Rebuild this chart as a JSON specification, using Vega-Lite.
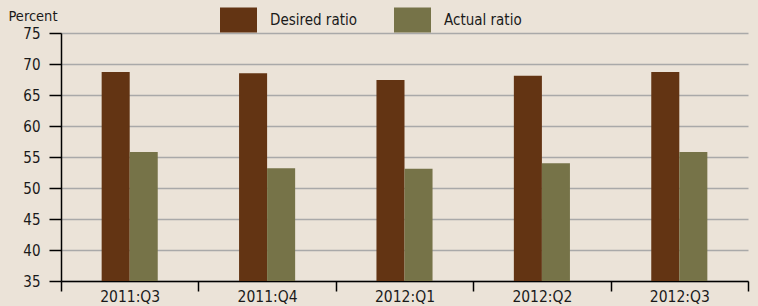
{
  "$schema": "https://vega.github.io/schema/vega-lite/v6.json",
  "autosize": {"type": "none"},
  "width": 687,
  "height": 248,
  "padding": {"left": 61, "top": 33, "right": 10, "bottom": 25},
  "background": "#ebe3d8",
  "config": {
    "view": {"stroke": null},
    "font": "DejaVu Sans Condensed",
    "axis": {"labelFont": "DejaVu Sans Condensed", "titleFont": "DejaVu Sans Condensed", "labelColor": "#1a1a1a", "titleColor": "#1a1a1a"},
    "legend": {"labelFont": "DejaVu Sans Condensed", "labelColor": "#1a1a1a"}
  },
  "data": {
    "values": [
      {"quarter": "2011:Q3", "series": "Desired ratio", "value": 68.7},
      {"quarter": "2011:Q3", "series": "Actual ratio", "value": 55.8},
      {"quarter": "2011:Q4", "series": "Desired ratio", "value": 68.5},
      {"quarter": "2011:Q4", "series": "Actual ratio", "value": 53.2},
      {"quarter": "2012:Q1", "series": "Desired ratio", "value": 67.4},
      {"quarter": "2012:Q1", "series": "Actual ratio", "value": 53.1},
      {"quarter": "2012:Q2", "series": "Desired ratio", "value": 68.1},
      {"quarter": "2012:Q2", "series": "Actual ratio", "value": 54.0},
      {"quarter": "2012:Q3", "series": "Desired ratio", "value": 68.7},
      {"quarter": "2012:Q3", "series": "Actual ratio", "value": 55.8}
    ]
  },
  "mark": {"type": "bar", "clip": true},
  "encoding": {
    "x": {
      "field": "quarter",
      "type": "nominal",
      "sort": null,
      "scale": {"paddingInner": 0, "paddingOuter": 0},
      "axis": {
        "title": null,
        "labelAngle": 0,
        "labelFontSize": 15.5,
        "labelPadding": -2,
        "tickBand": "extent",
        "tickSize": 10,
        "tickColor": "#000000",
        "tickWidth": 1.5,
        "domainColor": "#000000",
        "domainWidth": 1.5,
        "grid": false
      }
    },
    "xOffset": {
      "field": "series",
      "type": "nominal",
      "scale": {"domain": ["_left", "Desired ratio", "Actual ratio", "_right"], "paddingInner": 0, "paddingOuter": 0.45}
    },
    "y": {
      "field": "value",
      "type": "quantitative",
      "scale": {"domain": [35, 75], "nice": false, "zero": false},
      "axis": {
        "values": [35, 40, 45, 50, 55, 60, 65, 70, 75],
        "title": "Percent",
        "titleAngle": 0,
        "titleAlign": "left",
        "titleBaseline": "alphabetic",
        "titleX": -53,
        "titleY": -13,
        "titleFontSize": 14.5,
        "titleFontWeight": "normal",
        "labelFontSize": 15,
        "labelPadding": 9,
        "tickSize": 12,
        "tickColor": "#000000",
        "tickWidth": 1.5,
        "domainColor": "#000000",
        "domainWidth": 1.5,
        "grid": true,
        "gridColor": "#a9a9a9",
        "gridWidth": 1.5
      }
    },
    "color": {
      "field": "series",
      "type": "nominal",
      "sort": ["Desired ratio", "Actual ratio"],
      "scale": {"domain": ["Desired ratio", "Actual ratio"], "range": ["#633413", "#767348"]},
      "legend": {
        "title": null,
        "orient": "none",
        "direction": "horizontal",
        "legendX": 159,
        "legendY": -32,
        "padding": 0,
        "symbolType": "M-1,-0.68H1V0.68H-1Z",
        "symbolSize": 1369,
        "symbolStrokeWidth": 0,
        "symbolOpacity": 1,
        "labelFontSize": 15,
        "labelOffset": 13,
        "columnPadding": 37
      }
    }
  }
}
